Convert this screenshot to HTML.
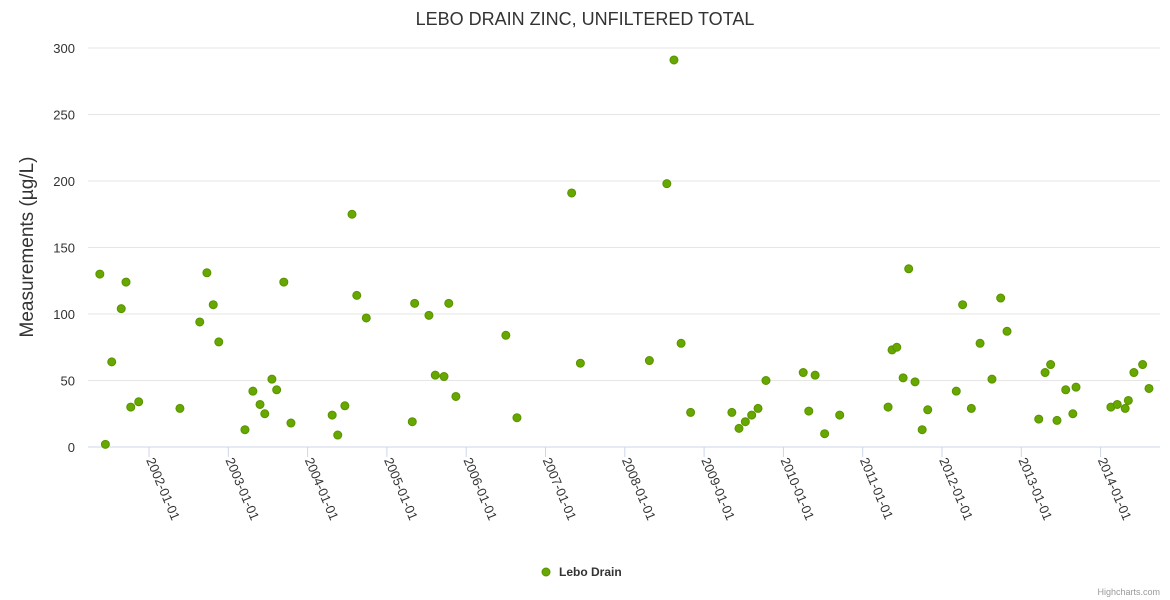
<!DOCTYPE html>
<html><head><meta charset="utf-8"><style>
body{margin:0;background:#fff;font-family:"Liberation Sans",sans-serif}
svg{display:block}
</style></head><body>
<svg id="chart" width="1170" height="600" xmlns="http://www.w3.org/2000/svg">
<text x="585" y="25" text-anchor="middle" font-size="18" fill="#333">LEBO DRAIN ZINC, UNFILTERED TOTAL</text>
<text transform="translate(33,247) rotate(-90)" text-anchor="middle" font-size="19" fill="#333">Measurements (µg/L)</text>
<g id="grid"></g><g id="xaxis"></g><g id="pts"></g>
<g>
<circle cx="546" cy="572" r="4" fill="#66a800" stroke="#5a9200"/>
<text x="559" y="576" font-size="12" font-weight="bold" fill="#333">Lebo Drain</text>
</g>
<text x="1160" y="595" text-anchor="end" font-size="9" fill="#999">Highcharts.com</text>
</svg>
<script>
const yTicks=[0,50,100,150,200,250,300];
const xTickYears=[2002,2003,2004,2005,2006,2007,2008,2009,2010,2011,2012,2013,2014];
const dates=[2001.38,2001.45,2001.53,2001.65,2001.71,2001.77,2001.87,2002.39,2002.64,2002.73,2002.81,2002.88,2003.21,2003.31,2003.40,2003.46,2003.55,2003.61,2003.70,2003.79,2004.31,2004.38,2004.47,2004.56,2004.62,2004.74,2005.32,2005.35,2005.53,2005.61,2005.72,2005.78,2005.87,2006.50,2006.64,2007.33,2007.44,2008.31,2008.53,2008.62,2008.71,2008.83,2009.35,2009.44,2009.52,2009.60,2009.68,2009.78,2010.25,2010.32,2010.40,2010.52,2010.71,2011.32,2011.37,2011.43,2011.51,2011.58,2011.66,2011.75,2011.82,2012.18,2012.26,2012.37,2012.48,2012.63,2012.74,2012.82,2013.22,2013.30,2013.37,2013.45,2013.56,2013.65,2013.69,2014.13,2014.21,2014.31,2014.35,2014.42,2014.53,2014.61];
const values=[130,2,64,104,124,30,34,29,94,131,107,79,13,42,32,25,51,43,124,18,24,9,31,175,114,97,19,108,99,54,53,108,38,84,22,191,63,65,198,291,78,26,26,14,19,24,29,50,56,27,54,10,24,30,73,75,52,134,49,13,28,42,107,29,78,51,112,87,21,56,62,20,43,25,45,30,32,29,35,56,62,44];
const NS='http://www.w3.org/2000/svg';
const X=t=>149+(t-2002)*79.3;
const Y=v=>447-v*1.33;
const grid=document.getElementById('grid'),xa=document.getElementById('xaxis'),pts=document.getElementById('pts');
function mk(tag,at,parent){const e=document.createElementNS(NS,tag);for(const k in at)e.setAttribute(k,at[k]);parent.appendChild(e);return e;}
yTicks.forEach(v=>{
 const l=mk('line',{x1:88,x2:1160,y1:Y(v),y2:Y(v),stroke:v===0?'#ccd6eb':'#e6e6e6'},grid);
 
 
 const t=mk('text',{x:75,y:Y(v)+5,'text-anchor':'end','font-size':13,fill:'#333'},grid);
 t.textContent=v;
 
 
});
xTickYears.forEach(yr=>{
 const x=X(yr);
 const l=mk('line',{x1:x,x2:x,y1:447,y2:457,stroke:'#ccd6eb'},xa);
 
 
 const t=mk('text',{x:0,y:0,'font-size':13,fill:'#333',transform:`translate(${x-3},${460}) rotate(67)`},xa);
 t.textContent=yr+'-01-01';
 
 
});
dates.forEach((d,i)=>{
 const c=mk('circle',{cx:X(d),cy:Y(values[i]),r:4,fill:'#66a800',stroke:'#5a9200','stroke-width':1},pts);
 
 
});
</script>
</body></html>
